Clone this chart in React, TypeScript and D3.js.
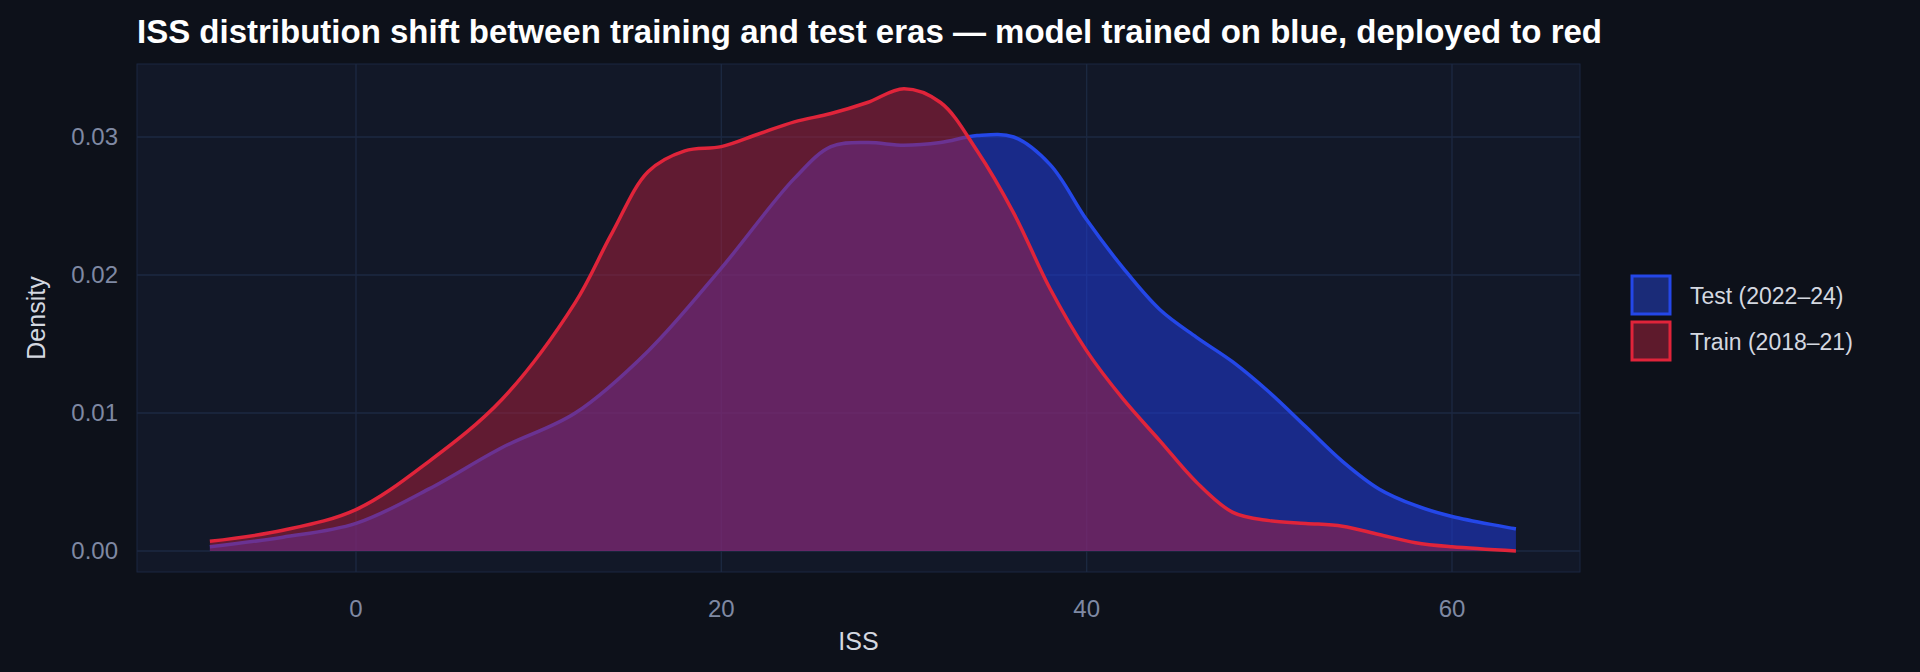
import * as React from 'react'
import * as d3 from 'd3'

const trainX = [-8, -4, 0, 4, 8, 12, 14, 16, 18, 20, 22, 24, 26, 28, 30, 32, 34, 36, 38, 40, 42, 44, 46, 48, 50, 52, 54, 56, 58, 60, 63.5]
const trainY = [0.0007, 0.0015, 0.003, 0.0065, 0.011, 0.018, 0.023, 0.0275, 0.029, 0.0293, 0.0302, 0.0311, 0.0317, 0.0325, 0.0335, 0.0325, 0.029, 0.0245, 0.019, 0.0145, 0.011, 0.008, 0.005, 0.0028, 0.0022, 0.002, 0.0018, 0.0012, 0.0006, 0.0003, 0.0]
const testX = [-8, -4, 0, 4, 8, 12, 16, 20, 24, 26, 28, 30, 32, 34, 36, 38, 40, 42, 44, 46, 48, 50, 52, 54, 56, 58, 60, 63.5]
const testY = [0.0003, 0.001, 0.002, 0.0045, 0.0075, 0.010, 0.0145, 0.0205, 0.027, 0.0293, 0.0296, 0.0294, 0.0296, 0.0301, 0.0300, 0.028, 0.024, 0.0205, 0.0175, 0.0155, 0.0137, 0.0115, 0.009, 0.0065, 0.0045, 0.0033, 0.0025, 0.0016]
const xTicks = [0, 20, 40, 60]
const yTicks = [0, 0.01, 0.02, 0.03]

const W = 1920, H = 672
const panel = { left: 137, right: 1580, top: 64, bottom: 572 }

export default function App() {
  const x = d3.scaleLinear().domain([0, 60]).range([356, 1452])
  const y = d3.scaleLinear().domain([0, 0.03]).range([551, 137])
  const font = '"Liberation Sans", Arial, sans-serif'

  const mk = (xs: number[], ys: number[]) => xs.map((v, i) => [v, ys[i]] as [number, number])
  const area = d3.area<[number, number]>().x(d => x(d[0])).y0(y(0)).y1(d => y(d[1])).curve(d3.curveCatmullRom)
  const line = d3.line<[number, number]>().x(d => x(d[0])).y(d => y(d[1])).curve(d3.curveCatmullRom)
  const train = mk(trainX, trainY)
  const test = mk(testX, testY)

  return (
    <svg width={W} height={H} style={{ position: 'absolute', left: 0, top: 0, background: '#0d111a' }}>
      <rect width={W} height={H} fill="#0d111a" />
      <rect x={panel.left} y={panel.top} width={panel.right - panel.left} height={panel.bottom - panel.top} fill="#121828" stroke="#1b2640" />
      {xTicks.map(t => <line key={'gx' + t} x1={x(t)} x2={x(t)} y1={panel.top} y2={panel.bottom} stroke="#1c2942" strokeWidth={1.3} />)}
      {yTicks.map(t => <line key={'gy' + t} x1={panel.left} x2={panel.right} y1={y(t)} y2={y(t)} stroke="#1c2942" strokeWidth={1.3} />)}

      <path d={area(test)!} fill="#1f3ad8" fillOpacity={0.55} />
      <path d={line(test)!} fill="none" stroke="#2447e8" strokeWidth={3.5} />
      <path d={area(train)!} fill="#b01e3c" fillOpacity={0.5} />
      <path d={line(train)!} fill="none" stroke="#e0243a" strokeWidth={3.5} />

      {xTicks.map(t => <text key={'tx' + t} x={x(t)} y={617} textAnchor="middle" fontFamily={font} fontSize={24} fill="#7f89a3">{t}</text>)}
      {yTicks.map(t => <text key={'ty' + t} x={118} y={y(t) + 8} textAnchor="end" fontFamily={font} fontSize={24} fill="#7f89a3">{t.toFixed(2)}</text>)}
      <text x={(panel.left + panel.right) / 2} y={650} textAnchor="middle" fontFamily={font} fontSize={25} fill="#d4d8e0">ISS</text>
      <text transform={`translate(45,${(panel.top + panel.bottom) / 2}) rotate(-90)`} textAnchor="middle" fontFamily={font} fontSize={25} fill="#d4d8e0">Density</text>
      <text x={137} y={43} fontFamily={font} fontSize={33} fontWeight="bold" fill="#ffffff">ISS distribution shift between training and test eras — model trained on blue, deployed to red</text>

      <rect x={1632} y={276} width={38} height={38} fill="#1a2b78" stroke="#2447e8" strokeWidth={3} />
      <text x={1690} y={304} fontFamily={font} fontSize={23} fill="#d4d8e0">Test (2022–24)</text>
      <rect x={1632} y={322} width={38} height={38} fill="#5e1a2c" stroke="#e0243a" strokeWidth={3} />
      <text x={1690} y={350} fontFamily={font} fontSize={23} fill="#d4d8e0">Train (2018–21)</text>
    </svg>
  )
}
